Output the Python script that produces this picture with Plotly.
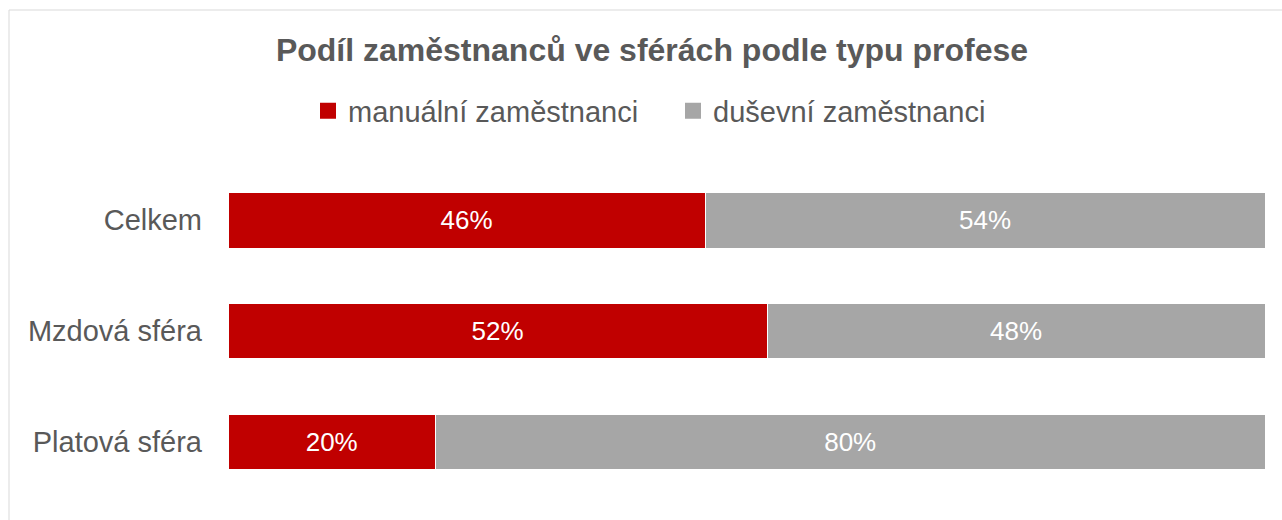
import plotly.graph_objects as go

categories = ["Celkem", "Mzdová sféra", "Platová sféra"]
manual = [46, 52, 20]
dusevni = [54, 48, 80]
series_names = ["manuální zaměstnanci", "duševní zaměstnanci"]
colors = ["#C00000", "#A6A6A6"]
title_text = "Podíl zaměstnanců ve sférách podle typu profese"

FONT = "Liberation Sans, Arial, sans-serif"
TXT = "#595959"

W, H = 1282, 520
L, R, T, B = 228, 17, 165, 23

fig = go.Figure()
for name, vals, col in zip(series_names, [manual, dusevni], colors):
    fig.add_trace(go.Bar(
        y=categories, x=vals, orientation="h", name=name,
        marker=dict(color=col, line=dict(color="white", width=1)),
        text=[f"{v}%" for v in vals], textposition="inside",
        insidetextanchor="middle",
        textfont=dict(color="white", size=26, family=FONT),
        showlegend=False, hoverinfo="skip",
    ))
for name, col in zip(series_names, colors):
    fig.add_trace(go.Scatter(
        x=[None], y=[None], mode="markers", name=name,
        marker=dict(symbol="square", size=16, color=col, line=dict(width=0)),
        showlegend=True,
    ))

pw = W - L - R
ph = H - T - B
fig.add_shape(type="rect", xref="paper", yref="paper",
              x0=(9 - L) / pw, x1=1.2, y0=-0.3, y1=1 + (T - 10) / ph,
              line=dict(color="#D9D9D9", width=1), fillcolor="rgba(0,0,0,0)",
              layer="below")

fig.update_layout(
    width=W, height=H,
    margin=dict(l=L, r=R, t=T, b=B),
    barmode="stack", bargap=0.5,
    plot_bgcolor="white", paper_bgcolor="white",
    font=dict(family=FONT, color=TXT),
    title=dict(text=f"<b>{title_text}</b>", xref="container", yref="container",
               x=652 / W, xanchor="center", y=1 - 50 / H, yanchor="middle",
               font=dict(size=32, color=TXT, family=FONT)),
    legend=dict(orientation="h", xref="container", yref="container",
                x=308 / W, xanchor="left", y=1 - 111 / H, yanchor="middle",
                traceorder="normal", itemsizing="trace",
                entrywidth=320, entrywidthmode="pixels",
                font=dict(size=29, color=TXT, family=FONT),
                itemwidth=30, bgcolor="rgba(0,0,0,0)"),
    xaxis=dict(range=[0, 100], visible=False, showgrid=False, zeroline=False,
               fixedrange=True),
    yaxis=dict(categoryorder="array", categoryarray=categories, autorange="reversed",
               showgrid=False, zeroline=False, showline=False, ticks="",
               ticklabelstandoff=25,
               tickfont=dict(size=29, color=TXT, family=FONT), fixedrange=True),
)

fig.write_html("out.html", config={"displayModeBar": False},
               post_script="document.body.style.margin='0';")
